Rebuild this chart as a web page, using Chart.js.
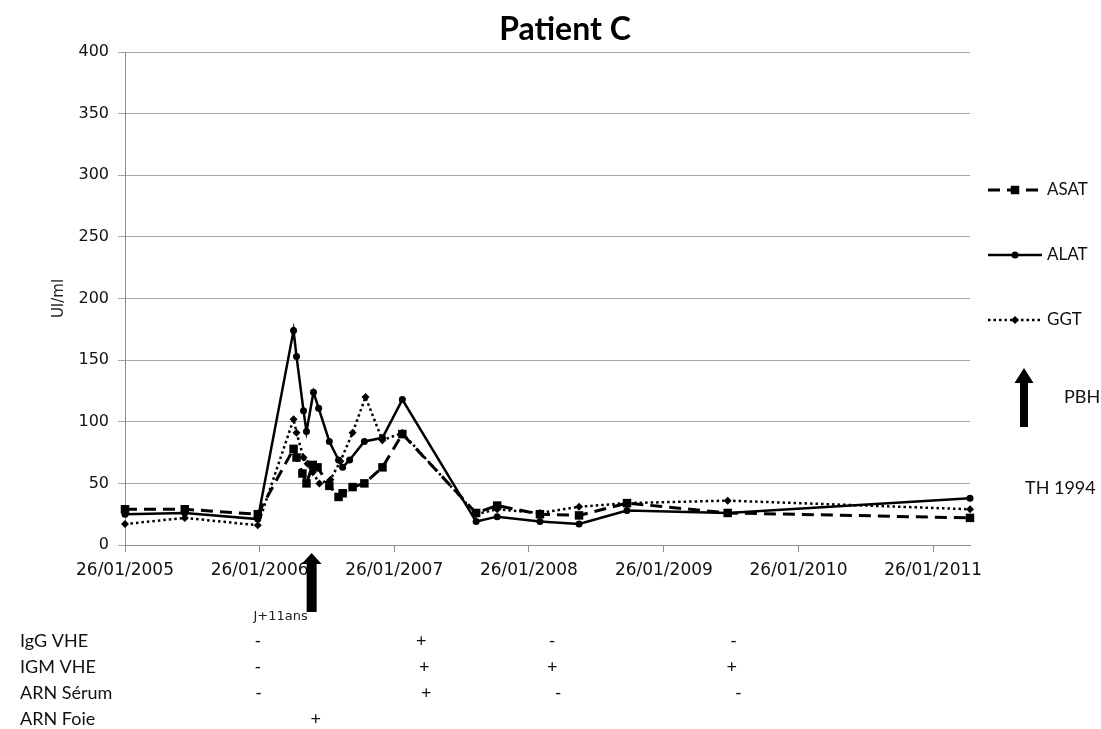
<!DOCTYPE html>
<html>
<head>
<meta charset="utf-8">
<title>Patient C</title>
<script src="https://cdn.jsdelivr.net/npm/chart.js@4.4.1/dist/chart.umd.min.js"></script>
<style>
  html, body { margin: 0; padding: 0; background: #fff; }
  #wrap { width: 1101px; height: 729px; position: relative; }
</style>
</head>
<body>
<div id="wrap"><canvas id="chart" width="1101" height="729"></canvas></div>
<script>
// x axis ticks (one per year)
const yearTicks = ['2005-01-26', '2006-01-26', '2007-01-26', '2008-01-26', '2009-01-26', '2010-01-26', '2011-01-26'];
const xStart = '2005-01-26';
const xEnd = '2011-05-06';
const yTicksStep = 50;
const yMax = 400;

// ASAT
const asatDates = ['2005-01-26', '2005-07-07', '2006-01-21', '2006-04-28', '2006-05-06', '2006-05-22', '2006-06-02',
    '2006-06-19', '2006-07-02', '2006-08-03', '2006-08-28', '2006-09-08', '2006-10-05', '2006-11-06', '2006-12-25',
    '2007-02-17', '2007-09-05', '2007-11-01', '2008-02-25', '2008-06-10', '2008-10-18', '2009-07-18', '2011-05-06'];
const asatValues = [29, 29, 25, 78, 71, 58, 50, 65, 63, 48, 39, 42, 47, 50, 63, 90, 26, 32, 25, 24, 34, 26, 22];

// ALAT
const alatDates = ['2005-01-26', '2005-07-07', '2006-01-21', '2006-04-28', '2006-05-06', '2006-05-25', '2006-06-02',
    '2006-06-21', '2006-07-05', '2006-08-03', '2006-08-28', '2006-09-08', '2006-09-27', '2006-11-06', '2006-12-25',
    '2007-02-17', '2007-09-05', '2007-11-01', '2008-02-25', '2008-06-10', '2008-10-18', '2009-07-18', '2011-05-06'];
const alatValues = [25, 26, 21, 174, 153, 109, 92, 124, 111, 84, 69, 63, 69, 84, 87, 118, 19, 23, 19, 17, 28, 26, 38];

// GGT
const ggtDates = ['2005-01-26', '2005-07-07', '2006-01-21', '2006-04-28', '2006-05-06', '2006-05-25', '2006-06-05',
    '2006-06-19', '2006-07-07', '2006-08-06', '2006-09-02', '2006-10-05', '2006-11-09', '2006-12-25', '2007-02-17',
    '2007-09-05', '2007-11-01', '2008-02-25', '2008-06-10', '2008-10-18', '2009-07-18', '2011-05-06'];
const ggtValues = [17, 22, 16, 102, 91, 71, 66, 59, 50, 53, 68, 91, 120, 85, 91, 25, 29, 26, 31, 34, 36, 29];

// serology table under the chart
const tableLabels = ['IgG VHE', 'IGM VHE', 'ARN Sérum', 'ARN Foie'];
const iggDates = ['2006-01-21', '2007-04-09', '2008-03-29', '2009-08-03'];
const iggMarks = ['-', '+', '-', '-'];
const igmDates = ['2006-01-21', '2007-04-17', '2008-03-29', '2009-07-29'];
const igmMarks = ['-', '+', '+', '+'];
const arnSerumDates = ['2006-01-23', '2007-04-23', '2008-04-14', '2009-08-16'];
const arnSerumMarks = ['-', '+', '-', '-'];
const arnFoieDates = ['2006-06-27'];
const arnFoieMarks = ['+'];

// arrow under the axis
const arrowDate = '2006-06-16';
const arrowLabel = 'J+11ans';

function toTime(s) {
    return Date.parse(s);
}

function pad(n) {
    return n < 10 ? '0' + n : '' + n;
}

function formatDate(v) {
    const d = new Date(v);
    return pad(d.getUTCDate()) + '/' + pad(d.getUTCMonth() + 1) + '/' + d.getUTCFullYear();
}

function toPoints(dates, values) {
    return dates.map((d, i) => ({ x: toTime(d), y: values[i] }));
}

const textFont = 'Lato, "Open Sans", sans-serif';

function drawArrow(ctx, x, tipY, baseY, shaftW, headW, headH) {
    ctx.save();
    ctx.fillStyle = '#000';
    ctx.beginPath();
    ctx.moveTo(x, tipY);
    ctx.lineTo(x + headW / 2, tipY + headH);
    ctx.lineTo(x + shaftW / 2, tipY + headH);
    ctx.lineTo(x + shaftW / 2, baseY);
    ctx.lineTo(x - shaftW / 2, baseY);
    ctx.lineTo(x - shaftW / 2, tipY + headH);
    ctx.lineTo(x - headW / 2, tipY + headH);
    ctx.closePath();
    ctx.fill();
    ctx.restore();
}

function drawMarker(ctx, style, x, y, r) {
    ctx.beginPath();
    if (style === 'rect') {
        const s = r * Math.SQRT1_2;
        ctx.rect(x - s, y - s, s * 2, s * 2);
    } else if (style === 'rectRot') {
        ctx.moveTo(x, y - r);
        ctx.lineTo(x + r, y);
        ctx.lineTo(x, y + r);
        ctx.lineTo(x - r, y);
        ctx.closePath();
    } else {
        ctx.arc(x, y, r, 0, Math.PI * 2);
    }
    ctx.fill();
}

const extrasPlugin = {
    id: 'extras',
    afterDraw(chart) {
        const ctx = chart.ctx;
        const xs = chart.scales.x;

        ctx.save();
        // title
        ctx.fillStyle = '#000';
        ctx.font = 'bold 32px ' + textFont;
        ctx.textAlign = 'center';
        ctx.textBaseline = 'middle';
        ctx.fillText('Patient C', 565, 30);

        // legend
        const legendY = [190, 255, 320];
        chart.data.datasets.forEach((ds, i) => {
            const y = legendY[i];
            ctx.strokeStyle = '#000';
            ctx.lineWidth = ds.borderWidth;
            ctx.setLineDash(ds.borderDash || []);
            ctx.beginPath();
            ctx.moveTo(988, y);
            ctx.lineTo(1042, y);
            ctx.stroke();
            ctx.setLineDash([]);
            ctx.fillStyle = '#000';
            drawMarker(ctx, ds.pointStyle, 1015, y, ds.pointRadius);
            ctx.fillStyle = '#111';
            ctx.font = '17px ' + textFont;
            ctx.textAlign = 'left';
            ctx.fillText(ds.label, 1047, y);
        });

        // PBH arrow and notes
        drawArrow(ctx, 1024, 368, 427, 8, 19, 15);
        ctx.font = '18px ' + textFont;
        ctx.textAlign = 'left';
        ctx.fillText('PBH', 1064, 397);
        ctx.fillText('TH 1994', 1025, 488);

        // arrow under x axis
        const ax = xs.getPixelForValue(toTime(arrowDate));
        drawArrow(ctx, ax, 553, 612, 10, 20, 11);
        ctx.font = '13px "DejaVu Sans", sans-serif';
        ctx.textAlign = 'center';
        ctx.fillStyle = '#222';
        ctx.fillText(arrowLabel, ax - 31, 617);

        // serology table
        const rows = [
            [iggDates, iggMarks],
            [igmDates, igmMarks],
            [arnSerumDates, arnSerumMarks],
            [arnFoieDates, arnFoieMarks]
        ];
        ctx.fillStyle = '#111';
        rows.forEach((row, i) => {
            const y = 641 + i * 26;
            ctx.font = '18px ' + textFont;
            ctx.textAlign = 'left';
            ctx.fillText(tableLabels[i], 20, y);
            ctx.textAlign = 'center';
            row[0].forEach((d, j) => {
                ctx.fillText(row[1][j], xs.getPixelForValue(toTime(d)), y);
            });
        });
        ctx.restore();
    }
};

const ctx = document.getElementById('chart').getContext('2d');
const chart = new Chart(ctx, {
    type: 'line',
    data: {
        datasets: [{
            label: 'ASAT',
            data: toPoints(asatDates, asatValues),
            borderColor: '#000',
            backgroundColor: '#000',
            borderWidth: 3,
            borderDash: [12, 7],
            pointStyle: 'rect',
            pointRadius: 6,
            pointBorderWidth: 0,
            pointBackgroundColor: '#000',
            tension: 0,
            clip: false
        }, {
            label: 'ALAT',
            data: toPoints(alatDates, alatValues),
            borderColor: '#000',
            backgroundColor: '#000',
            borderWidth: 2.5,
            pointStyle: 'circle',
            pointRadius: 3.5,
            pointBorderWidth: 0,
            pointBackgroundColor: '#000',
            tension: 0,
            clip: false
        }, {
            label: 'GGT',
            data: toPoints(ggtDates, ggtValues),
            borderColor: '#000',
            backgroundColor: '#000',
            borderWidth: 2.5,
            borderDash: [2.5, 3],
            pointStyle: 'rectRot',
            pointRadius: 4,
            pointBorderWidth: 0,
            pointBackgroundColor: '#000',
            tension: 0,
            clip: false
        }]
    },
    options: {
        responsive: false,
        animation: false,
        layout: {
            padding: { left: 0, right: 131, top: 52, bottom: 0 }
        },
        plugins: {
            legend: { display: false },
            title: { display: false },
            tooltip: { enabled: false }
        },
        scales: {
            x: {
                type: 'linear',
                min: toTime(xStart),
                max: toTime(xEnd),
                afterBuildTicks: scale => {
                    scale.ticks = yearTicks.map(t => ({ value: toTime(t) }));
                },
                afterFit: scale => {
                    scale.height = 184;
                },
                ticks: {
                    autoSkip: false,
                    maxRotation: 0,
                    minRotation: 0,
                    padding: 8,
                    color: '#111',
                    font: { family: '"DejaVu Sans", sans-serif', size: 17 },
                    callback: value => formatDate(value)
                },
                grid: {
                    drawOnChartArea: false,
                    drawTicks: true,
                    tickLength: 7,
                    color: '#8c8c8c'
                },
                border: { color: '#8c8c8c' }
            },
            y: {
                min: 0,
                max: yMax,
                afterFit: scale => {
                    scale.width = 125;
                },
                ticks: {
                    stepSize: yTicksStep,
                    padding: 9,
                    color: '#111',
                    font: { family: '"DejaVu Sans", sans-serif', size: 16 }
                },
                grid: {
                    color: '#a6a6a6',
                    drawTicks: true,
                    tickLength: 7
                },
                border: { color: '#8c8c8c' },
                title: {
                    display: true,
                    text: 'UI/ml',
                    color: '#222',
                    padding: { top: 50, bottom: 0 },
                    font: { family: '"DejaVu Sans", sans-serif', size: 15, weight: 'normal' }
                }
            }
        }
    },
    plugins: [extrasPlugin]
});
</script>
</body>
</html>
